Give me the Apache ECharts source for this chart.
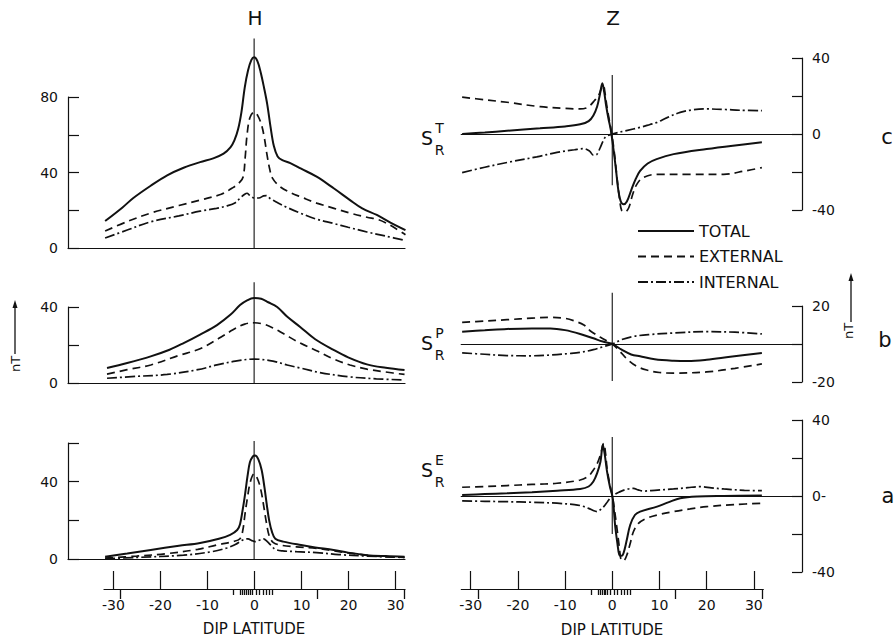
<!DOCTYPE html>
<html><head><meta charset="utf-8">
<script src="https://cdn.jsdelivr.net/npm/echarts@6/dist/echarts.min.js"></script>
<style>html,body{margin:0;padding:0;background:#fff}#c{width:894px;height:641px}</style>
</head><body><div id="c"></div>
<script>
// ---------- data (dip latitude, nT) ----------
const latTicks = [-30, -20, -10, 0, 10, 20, 30];
const stationsNear = [-4.5, -3.0, -2.6, -2.2, -1.8, -1.4, -1.0, -0.5, 0.4, 1.1, 1.8, 2.5, 3.2, 3.8];
const stationsFar = [-28.5, 13.3, 31.8];
const seriesNames = ['TOTAL', 'EXTERNAL', 'INTERNAL'];

// H component, S_R^T (c)
const hcTotal = [[-31.7,14.3],[-28,21.5],[-25.7,26.5],[-22,33],[-18.5,38.5],[-15,42.5],[-11.5,45.5],[-8.7,47.5],[-6.5,50],[-5,53.5],[-4.2,57],[-3.4,63],[-2.7,72],[-2,85],[-1.3,94],[-0.6,99.5],[0,101],[0.7,99],[1.4,93],[2.1,85],[2.8,76],[3.5,64],[4.2,54],[5,48.5],[6,46.5],[7.7,45],[10,42],[13.3,37.8],[17,31.5],[20.4,25.4],[23,21],[26.1,17.5],[29,13.5],[32.2,9.5]];
const hcExternal = [[-31.7,9],[-27,14],[-22,18.5],[-16,22.5],[-11.5,25.4],[-7,28.5],[-4.5,32],[-3,35],[-2.3,38],[-1.9,48],[-1.5,60],[-0.9,69],[0,72],[0.8,70],[1.6,65],[2.2,58],[2.7,50],[3.3,42],[3.9,37],[5.5,32.5],[8,29],[10,27],[13.3,23.8],[17,21],[20.4,18.5],[24,16.3],[26.5,15],[29,12],[32.2,7]];
const hcInternal = [[-31.7,5.3],[-27,9.5],[-22,13.9],[-16,17],[-11.5,19.5],[-8,21],[-5.8,22.3],[-4,24],[-3,26.4],[-2,28.5],[-1.5,29],[-1,28],[0,26.5],[1,26.5],[2,27.6],[2.6,27.8],[3.5,26],[5,24],[7,21.5],[9.8,18.5],[13,15.5],[16.9,13],[20,11],[24,8.5],[28,6.3],[32.2,4]];
// H component, S_R^P (b)
const hbTotal = [[-31.3,7.9],[-27,10.5],[-22,14],[-18,17.5],[-15,21],[-11.5,25.5],[-7.9,30.5],[-5,36],[-3,41],[-1.5,43.5],[0,44.7],[1.5,44.3],[3,42.5],[4.9,40],[7,35],[9.8,29.5],[13,23],[16.9,17.4],[20,13.5],[24,9.8],[28,8],[32,6.8]];
const hbExternal = [[-31.3,4.7],[-27,7],[-22,9.5],[-16,14.5],[-11.5,18],[-7.5,23.5],[-4.5,28],[-2,31],[0,31.7],[2,31],[4,29],[6.2,26],[9.8,21],[13.3,17],[17,12.5],[20.4,9.5],[24,7.3],[28,5.8],[32,4.5]];
const hbInternal = [[-31.3,2.5],[-25,3.5],[-18.5,4.5],[-12,7],[-7.9,9.5],[-4,11.5],[0,12.6],[4,11.5],[7,9.5],[9.8,7.9],[14,5.5],[20.4,3.2],[26,2.2],[32,1.6]];
// H component, S_R^E (a)
const haTotal = [[-31.7,1.2],[-27,2.8],[-22,4.7],[-16,6.8],[-11.5,8.3],[-7.5,10.5],[-5.1,12.5],[-3.6,15],[-3,18],[-2.4,26],[-1.9,34],[-1.4,43],[-0.9,50],[-0.3,53],[0.2,53.5],[0.9,51.5],[1.6,46],[2.2,37],[2.7,28],[3.2,20],[3.8,14],[4.5,10.5],[6.2,9],[10,7.2],[13,6],[16.9,4.7],[20,3.3],[24,2],[28,1.5],[32,1.2]];
const haExternal = [[-31.7,0.5],[-25,1.5],[-18.5,2.8],[-12,5],[-7.9,7.3],[-4.5,9],[-3,10.5],[-2.4,15],[-1.9,24],[-1.4,32],[-0.8,40],[0,44],[0.8,41],[1.5,35],[2,28],[2.6,19],[3.2,12],[4.1,8.5],[6,7],[9,6.3],[13.3,5.5],[17,4.2],[20.4,3],[26,1.5],[32,0.8]];
const haInternal = [[-31.7,0.2],[-25,0.8],[-15,2],[-9,3.8],[-5.8,5.7],[-4,7.5],[-2.3,10],[-1.3,10.4],[-0.5,9.5],[0.3,9],[1.2,9.8],[2,10.4],[2.8,9],[3.5,7.3],[4.5,5],[6,4.2],[9,3.8],[13.3,3.3],[18,2.3],[24,1.5],[32,0.8]];
// Z component, S_R^T (c)
const zcTotal = [[-31.8,0],[-27,0.8],[-22.3,1.7],[-15.3,3],[-10,4],[-6.8,5.1],[-5,6.8],[-4,9.8],[-3.2,14.5],[-2.6,21],[-2.1,26.7],[-1.7,22],[-1.3,15],[-0.8,8],[-0.3,2],[0.3,-8.8],[0.8,-19],[1.3,-29.8],[1.8,-35.5],[2.4,-37],[3.1,-35.5],[4.1,-29],[5,-23.5],[5.9,-19.4],[7.5,-15.5],[9.4,-13.2],[13,-10.6],[20,-7.9],[26,-6],[31.7,-4.4]];
const zcExternal = [[-31.8,19.4],[-27,18],[-22.3,16.7],[-15.3,14.4],[-10,13.5],[-6.8,13.2],[-5.5,13.7],[-4.7,15],[-3.8,17.5],[-2.9,20.3],[-2.3,24],[-1.9,25.6],[-1.5,21],[-1.1,14],[-0.6,7],[-0.1,0],[0.5,-11],[1,-22.9],[1.5,-33],[2,-40.3],[2.7,-41],[3.5,-38.8],[4.3,-32],[5.2,-26.5],[6.5,-23],[9.5,-21.2],[16.5,-21.2],[23.6,-21.2],[28,-19.5],[31.7,-17.7]];
const zcInternal = [[-31.8,-20.3],[-27,-17.5],[-22.3,-15],[-16,-12],[-11.7,-9.7],[-8,-8.3],[-6,-7.7],[-4.8,-9],[-4,-11.1],[-3.3,-10.8],[-2.6,-7.5],[-2,-4],[-1.4,-1.5],[0,0],[3,1.8],[5.9,3.5],[8,5],[9.5,6.1],[11.5,8.5],[14.4,11.4],[17,12.7],[20,13.2],[24,12.9],[27,12.5],[31.7,12.3]];
// Z component, S_R^P (b)
const zbTotal = [[-31.8,6.5],[-27,7.2],[-22.3,7.9],[-17,8.2],[-13.1,8.2],[-10,7.3],[-6.8,5.3],[-4,3],[-2,1.3],[0,0],[2,-3],[4,-5.5],[5.9,-6.5],[9,-8],[13,-8.8],[16,-9],[20,-8.3],[25,-6.7],[31.7,-4.7]];
const zbExternal = [[-31.8,11.4],[-27,12.1],[-22.3,12.8],[-17,13.6],[-13.1,14],[-10,13.5],[-8.2,12.3],[-6,10],[-4.7,7],[-2.5,3.5],[0,0],[1.5,-3.5],[3.1,-7.9],[5,-11.5],[7.3,-13.7],[10,-15],[13,-15.3],[20,-14.7],[26,-12.8],[31.7,-10.5]];
const zbInternal = [[-31.8,-4.7],[-27,-5.4],[-22.3,-6.1],[-17,-6.2],[-13.1,-5.8],[-9,-5],[-6.8,-4.4],[-4,-3],[-2,-1.5],[0,0],[2,2.3],[4.5,4],[8,5],[13,5.8],[20,6.5],[26,6.2],[31.7,5.3]];
// Z component, S_R^E (a)
const zaTotal = [[-31.8,0.5],[-27,1],[-22.3,1.4],[-17,2],[-11.7,2.8],[-6.8,3.7],[-5,5],[-4,7.6],[-3.2,12],[-2.5,18],[-2,27],[-1.6,22],[-1.1,12.8],[-0.5,5],[0.1,-1],[0.6,-15.3],[1.1,-25],[1.5,-31],[2,-31.5],[2.4,-30],[3,-24],[3.8,-15.3],[4.8,-10],[5.9,-8.2],[9.5,-5.6],[12,-3.2],[14.4,-1.2],[18,-0.3],[23.6,0],[31.7,0.2]];
const zaExternal = [[-31.8,4.6],[-27,5],[-22.3,5.5],[-17,6.1],[-11.7,6.7],[-6.8,8.4],[-5,10.5],[-4,13.7],[-3.2,17],[-2.5,21.6],[-1.8,27.7],[-1.4,22],[-1.1,14.6],[-0.5,6],[0.1,-1],[1,-17],[1.5,-27],[1.9,-33.7],[2.4,-34],[3.1,-31],[3.8,-25],[4.5,-18.7],[5.5,-14.5],[7.3,-11.7],[10,-9.7],[13,-8.2],[16.5,-6.8],[20,-5.6],[26,-4.5],[31.7,-3.8]];
const zaInternal = [[-31.8,-2.6],[-27,-2.8],[-22.3,-3],[-17,-3.3],[-11.7,-3.8],[-8,-4.5],[-6.8,-5],[-5,-6.5],[-3.9,-7.8],[-3.2,-8.2],[-2.5,-7.2],[-1.8,-5.6],[-1,-3],[0,0],[1.7,2.3],[3,3.5],[4.5,4],[5.5,3.2],[6.6,2.6],[9,3],[13,3.7],[16,4.4],[18.6,4.9],[21,4.3],[23.6,3.7],[28,3],[31.7,2.8]];
// dip-equator reference lines
const hcEquator = [[0,0],[0,111]];
const hbEquator = [[0,0],[0,53]];
const haEquator = [[0,0],[0,61]];
const zcEquator = [[0,31],[0,-27]];
const zbEquator = [[0,27],[0,-19.5]];
const zaEquator = [[0,31],[0,-20]];
// axis tick labels shown
const hcLabels = [0, 40, 80];
const hbLabels = [0, 40];
const haLabels = [0, 40];
const zcLabels = [40, 0, -40];
const zbLabels = [20, -20];
const zaLabels = [40, 0, -40];

// ---------- styling / layout ----------
const FONT = 'DejaVu Sans';
const INK = '#111111';
const lineStyles = {
  TOTAL: { type: 'solid', width: 2 },
  EXTERNAL: { type: [8, 5], width: 1.7 },
  INTERNAL: { type: [10, 3, 2, 3], width: 1.7 }
};
const axLine = { color: INK, width: 1.2 };
const labelStyle = { color: INK, fontFamily: FONT, fontSize: 14 };

const grids = [], xAxes = [], yAxes = [], series = [];

function panel(kind, top, height, ymin, ymax, labels, zeroLabel) {
  const gi = grids.length;
  const isH = kind === 'H';
  grids.push(isH ? { left: 68, width: 337, top, height, outerBoundsMode: 'none' }
                 : { left: 461.2, width: 340.8, top, height, outerBoundsMode: 'none' });
  xAxes.push({
    type: 'value', gridIndex: gi,
    min: isH ? -39.6 : -32, max: isH ? 32.1 : 40.2,
    axisLine: { show: true, onZero: true, lineStyle: axLine },
    axisTick: { show: false }, axisLabel: { show: false }, splitLine: { show: false }
  });
  yAxes.push({
    type: 'value', gridIndex: gi, min: ymin, max: ymax, interval: 20,
    position: isH ? 'left' : 'right',
    axisLine: { show: true, onZero: false, lineStyle: axLine },
    axisTick: { show: true, inside: true, length: isH ? 11 : 10, lineStyle: axLine },
    axisLabel: Object.assign({ margin: 10, formatter: v => labels.indexOf(v) >= 0 ? (v === 0 && zeroLabel ? zeroLabel : String(v)) : '' }, labelStyle),
    splitLine: { show: false }
  });
  return gi;
}

function addLines(gi, equator, total, ext, int) {
  series.push({ type: 'line', xAxisIndex: gi, yAxisIndex: gi, data: equator, symbol: 'none', clip: false,
    silent: true, lineStyle: { color: INK, width: 1.1 }, z: 2 });
  [[total, 'TOTAL'], [ext, 'EXTERNAL'], [int, 'INTERNAL']].forEach(([d, name]) => {
    series.push({ type: 'line', name, xAxisIndex: gi, yAxisIndex: gi, data: d, symbol: 'none', showSymbol: false,
      smooth: 0.35, clip: false, silent: true, z: 3,
      lineStyle: { color: INK, width: lineStyles[name].width, type: lineStyles[name].type },
      itemStyle: { color: INK } });
  });
}

addLines(panel('H', 97, 151, 0, 80, hcLabels), hcEquator, hcTotal, hcExternal, hcInternal);
addLines(panel('H', 307, 76, 0, 40, hbLabels), hbEquator, hbTotal, hbExternal, hbInternal);
addLines(panel('H', 443, 116, 0, 60, haLabels), haEquator, haTotal, haExternal, haInternal);
addLines(panel('Z', 58, 152, -40, 40, zcLabels), zcEquator, zcTotal, zcExternal, zcInternal);
addLines(panel('Z', 306, 76, -20, 20, zbLabels), zbEquator, zbTotal, zbExternal, zbInternal);
addLines(panel('Z', 420, 152, -40, 40, zaLabels, '0-'), zaEquator, zaTotal, zaExternal, zaInternal);

// bottom latitude axes with station markers
function latAxis(left, width) {
  const gi = grids.length;
  grids.push({ left, width, top: 571, height: 18, outerBoundsMode: 'none' });
  yAxes.push({ type: 'value', gridIndex: gi, min: 0, max: 1, show: false });
  xAxes.push({
    type: 'value', gridIndex: gi, min: -32, max: 32, position: 'bottom',
    axisLine: { show: true, onZero: false, lineStyle: axLine },
    axisTick: { show: true, inside: true, length: 18, customValues: latTicks, lineStyle: axLine },
    axisLabel: Object.assign({ margin: 9, customValues: latTicks }, labelStyle),
    splitLine: { show: false }
  });
  [[stationsNear, 6], [stationsFar, 10]].forEach(([vals, len]) => {
    xAxes.push({
      type: 'value', gridIndex: gi, min: -32, max: 32, position: 'bottom',
      axisLine: { show: false, onZero: false },
      axisTick: { show: true, inside: false, length: len, customValues: vals, lineStyle: { color: INK, width: 1.3 } },
      axisLabel: { show: false }, splitLine: { show: false }
    });
  });
}
latAxis(104, 301);
latAxis(461.3, 302);

// ---------- annotations ----------
function txt(x, y, text, size, extra) {
  return Object.assign({ type: 'text', x, y, silent: true,
    style: { text, fontSize: size, fontFamily: FONT, fill: INK, textAlign: 'center', textVerticalAlign: 'middle' } }, extra || {});
}
function srLabel(y, sup) {
  return [txt(427, y, 'S', 19), txt(439.5, y - 10, sup, 14), txt(439.5, y + 12, 'R', 14)];
}
function arrow(x, yTop, yBottom) {
  return [
    { type: 'line', silent: true, shape: { x1: x, y1: yBottom, x2: x, y2: yTop + 4 }, style: { stroke: INK, lineWidth: 1.3 } },
    { type: 'polygon', silent: true, shape: { points: [[x, yTop], [x - 2.5, yTop + 8], [x + 2.5, yTop + 8]] }, style: { fill: INK } }
  ];
}
const graphics = [
  txt(255, 18, 'H', 20),
  txt(613, 18, 'Z', 20),
  ...srLabel(138, 'T'),
  ...srLabel(343, 'P'),
  ...srLabel(470, 'E'),
  txt(887, 137, 'c', 21),
  txt(885, 340, 'b', 21),
  txt(888, 496, 'a', 21),
  txt(15, 364, 'nT', 13, { rotation: Math.PI / 2 }),
  ...arrow(15, 300, 354),
  txt(848, 331, 'nT', 13, { rotation: Math.PI / 2 }),
  ...arrow(851, 273, 322),
  txt(254, 629, 'DIP LATITUDE', 15),
  txt(612, 630, 'DIP LATITUDE', 15)
];

const chart = echarts.init(document.getElementById('c'), null, { renderer: 'svg', width: 894, height: 641 });
chart.setOption({
  backgroundColor: '#ffffff',
  animation: false,
  textStyle: { fontFamily: FONT, color: INK },
  grid: grids,
  xAxis: xAxes,
  yAxis: yAxes,
  legend: {
    data: seriesNames, orient: 'vertical', left: 632, top: 218,
    itemWidth: 56, itemHeight: 14, itemGap: 9.5, selectedMode: false,
    textStyle: { fontFamily: FONT, fontSize: 16, color: INK },
    itemStyle: { color: INK, opacity: 0 },
    lineStyle: { opacity: 1 }
  },
  tooltip: { show: false },
  series,
  graphic: { elements: graphics }
});
</script>
</body></html>
